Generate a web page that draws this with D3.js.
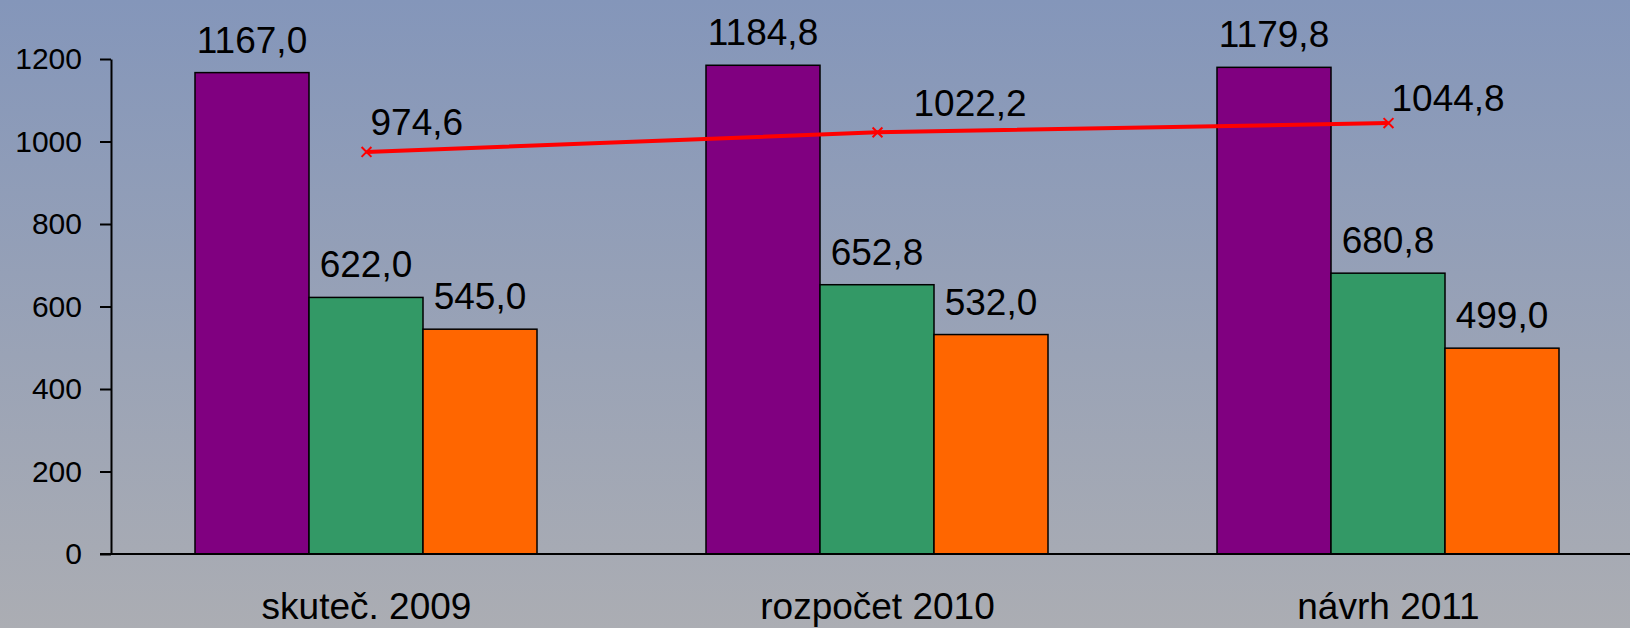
<!DOCTYPE html>
<html>
<head>
<meta charset="utf-8">
<script src="https://d3js.org/d3.v7.min.js"></script>
<style>
body { margin: 0; background: #9aa3b8; }
svg { display: block; font-family: Arial, "Liberation Sans", sans-serif; }
</style>
</head>
<body>
<svg id="chart" width="1630" height="628"></svg>
<script>
// data
var categories = ["skuteč. 2009", "rozpočet 2010", "návrh 2011"];
var seriesNames = ["a", "b", "c"];
var purpleVals = [1167.0, 1184.8, 1179.8];
var greenVals = [622.0, 652.8, 680.8];
var orangeVals = [545.0, 532.0, 499.0];
var lineVals = [974.6, 1022.2, 1044.8];
var yTicks = [0, 200, 400, 600, 800, 1000, 1200];

var barColors = ["#800080", "#339966", "#ff6600"];
// hand nudges for the line labels (as in the original)
var lineLabelDx = [4, 36, 3];
var lineLabelDy = [-17, -16, -12];

var W = 1630, H = 628;
var svg = d3.select("#chart");

// background gradient
var defs = svg.append("defs");
var grad = defs.append("linearGradient").attr("id", "bg")
    .attr("x1", 0).attr("y1", 0).attr("x2", 0).attr("y2", 1);
grad.append("stop").attr("offset", "0%").attr("stop-color", "#8496ba");
grad.append("stop").attr("offset", "100%").attr("stop-color", "#abadb3");
svg.append("rect").attr("width", W).attr("height", H).attr("fill", "url(#bg)");

var fmt = d3.formatLocale({decimal: ",", thousands: " ", grouping: [3], currency: ["", ""]}).format(".1f");

var x = d3.scaleBand(categories, [111, 111 + 3 * 511]);
var xs = d3.scaleBand(seriesNames, [84, 426]);
var y = d3.scaleLinear([0, 1200], [554, 59]);

var rows = categories.map((c, i) => ({cat: c, vals: [purpleVals[i], greenVals[i], orangeVals[i]]}));

// y axis
var yAxis = svg.append("g")
    .attr("transform", "translate(111,0)")
    .call(d3.axisLeft(y).tickValues(yTicks).tickSize(11).tickSizeOuter(0).tickPadding(18).tickFormat(d3.format("d")));
yAxis.select(".domain").attr("stroke", "#000").attr("stroke-width", 2);
yAxis.selectAll(".tick line").attr("stroke", "#000").attr("stroke-width", 2);
yAxis.selectAll(".tick text").attr("font-size", 30).attr("fill", "#000")
    .attr("font-family", "Arial, 'Liberation Sans', sans-serif");

// bars
var groups = svg.selectAll("g.grp").data(rows).join("g")
    .attr("class", "grp")
    .attr("transform", d => "translate(" + x(d.cat) + ",0)");

groups.selectAll("rect").data(d => d.vals.map((v, j) => ({v: v, s: seriesNames[j], j: j})))
    .join("rect")
    .attr("x", d => xs(d.s))
    .attr("y", d => y(d.v))
    .attr("width", xs.bandwidth())
    .attr("height", d => y(0) - y(d.v))
    .attr("fill", d => barColors[d.j])
    .attr("stroke", "#000")
    .attr("stroke-width", 1.5);

groups.selectAll("text").data(d => d.vals.map((v, j) => ({v: v, s: seriesNames[j]})))
    .join("text")
    .attr("x", d => xs(d.s) + xs.bandwidth() / 2)
    .attr("y", d => y(d.v) - 20)
    .attr("text-anchor", "middle")
    .attr("font-size", 37)
    .text(d => fmt(d.v));

// x baseline
svg.append("line")
    .attr("x1", 100).attr("x2", W)
    .attr("y1", y(0)).attr("y2", y(0))
    .attr("stroke", "#000").attr("stroke-width", 2);

// category labels
svg.selectAll("text.cat").data(categories).join("text")
    .attr("class", "cat")
    .attr("x", d => x(d) + x.bandwidth() / 2)
    .attr("y", 619)
    .attr("text-anchor", "middle")
    .attr("font-size", 37)
    .text(d => d);

// line series
var cx = (d, i) => x(categories[i]) + x.bandwidth() / 2;
svg.append("path")
    .datum(lineVals)
    .attr("fill", "none")
    .attr("stroke", "#ff0000")
    .attr("stroke-width", 4)
    .attr("d", d3.line().x(cx).y(d => y(d)));

svg.selectAll("path.mark").data(lineVals).join("path")
    .attr("class", "mark")
    .attr("transform", (d, i) => "translate(" + cx(d, i) + "," + y(d) + ")")
    .attr("d", d3.symbol(d3.symbolTimes, 65))
    .attr("fill", "none")
    .attr("stroke", "#ff0000")
    .attr("stroke-width", 2);

svg.selectAll("text.lbl").data(lineVals).join("text")
    .attr("class", "lbl")
    .attr("x", (d, i) => cx(d, i) + lineLabelDx[i])
    .attr("y", (d, i) => y(d) + lineLabelDy[i])
    .attr("font-size", 37)
    .text(d => fmt(d));
</script>
</body>
</html>
